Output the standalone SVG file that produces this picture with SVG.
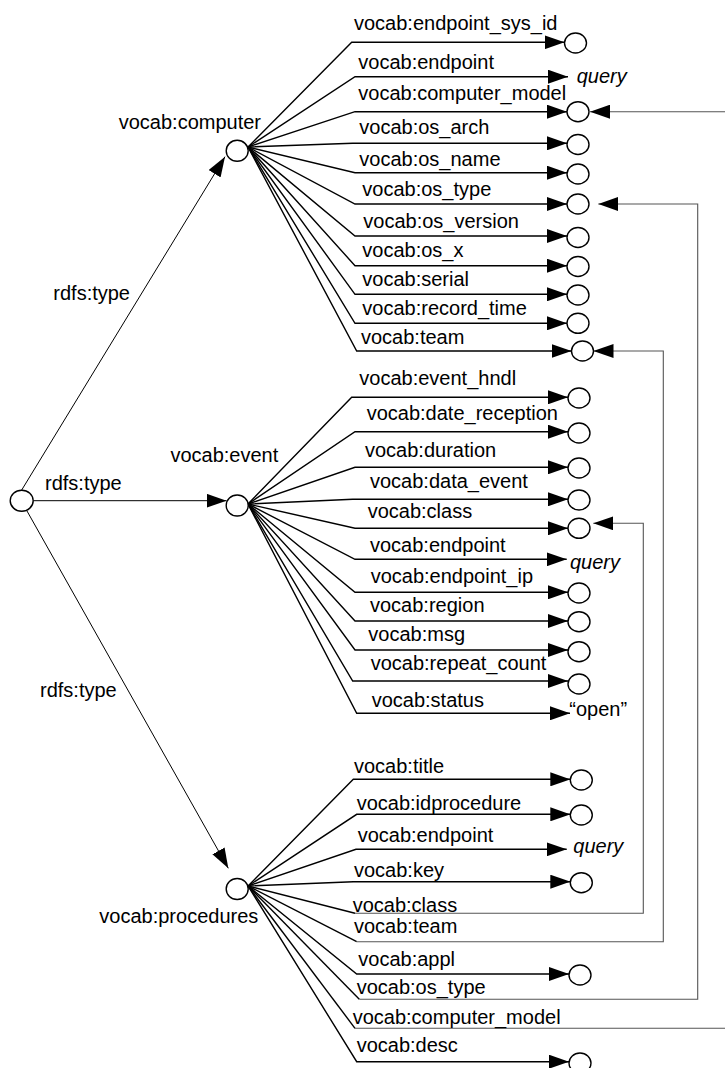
<svg xmlns="http://www.w3.org/2000/svg" width="725" height="1068" viewBox="0 0 725 1068">
  <style>
    text { font-family: "Liberation Sans", Arial, sans-serif; font-size: 20px; fill: #000; }
    .lit { font-style: italic; }
    .node { fill: #fff; stroke: #000; stroke-width: 1.4; }
    .prop { fill: none; stroke: #000; stroke-width: 1.4; marker-end: url(#arrow); }
    .fan { fill: none; stroke: #000; stroke-width: 1.4; }
    .type { fill: none; stroke: #000; stroke-width: 1; marker-end: url(#arrow); }
    .link { fill: none; stroke: #555; stroke-width: 1.1; marker-end: url(#arrow); }
  </style>
  <defs>
    <marker id="arrow" markerUnits="userSpaceOnUse" viewBox="0 0 20 14" markerWidth="20" markerHeight="14" refX="20" refY="7" orient="auto">
      <path d="M0,0 L20,7 L0,14 z" fill="#000"/>
    </marker>
  </defs>
  <rect width="725" height="1068" fill="#fff"/>

  <!-- connectors -->
  <g id="connectors">
    <!-- rdfs:type edges from the root resource -->
    <path class="type" d="M21.7,490 L225,156.7"/>
    <path class="type" d="M33.3,500.7 H226.5"/>
    <path class="type" d="M27,511 L228.3,868.3"/>

    <!-- vocab:computer properties -->
    <path class="prop" d="M248,147 L351.7,42.3 H564.5"/>
    <path class="prop" d="M248,147 L355,76.7 H568"/>
    <path class="prop" d="M248,147 L355,111.7 H567"/>
    <path class="prop" d="M248,147 L352.7,143.3 H567"/>
    <path class="prop" d="M248,147 L355,172.7 H567"/>
    <path class="prop" d="M248,147 L355,204 H567"/>
    <path class="prop" d="M248,147 L355,236 H567"/>
    <path class="prop" d="M248,147 L355,265.7 H567"/>
    <path class="prop" d="M248,147 L355,294.3 H567"/>
    <path class="prop" d="M248,147 L355,323.3 H567"/>
    <path class="prop" d="M248,147 L356.7,351 H571.5"/>

    <!-- vocab:event properties -->
    <path class="prop" d="M248,504 L351.7,397.3 H568"/>
    <path class="prop" d="M248,504 L355,431.7 H568"/>
    <path class="prop" d="M248,504 L355,467.3 H568"/>
    <path class="prop" d="M248,504 L352.7,499.3 H568"/>
    <path class="prop" d="M248,504 L355,528.3 H568"/>
    <path class="prop" d="M248,504 L355,559.3 H566.7"/>
    <path class="prop" d="M248,504 L355,592.3 H568"/>
    <path class="prop" d="M248,504 L355,621 H568"/>
    <path class="prop" d="M248,504 L355,650 H568"/>
    <path class="prop" d="M248,504 L352.7,681 H568"/>
    <path class="prop" d="M248,504 L356.7,713.3 H570"/>

    <!-- vocab:procedures properties -->
    <path class="prop" d="M248,886 L353.3,779.3 H570.3"/>
    <path class="prop" d="M248,886 L356.7,814.3 H570.3"/>
    <path class="prop" d="M248,886 L356,849.3 H566.7"/>
    <path class="prop" d="M248,886 L353.3,881.7 H570.3"/>
    <path class="fan" d="M248,886 L355,913.3"/>
    <path class="fan" d="M248,886 L356.7,941.7"/>
    <path class="prop" d="M248,886 L356.7,974 H569"/>
    <path class="fan" d="M248,886 L359.3,999.3"/>
    <path class="fan" d="M248,886 L355,1028.3"/>
    <path class="prop" d="M248,886 L356.7,1061.7 H569"/>

    <!-- shared values linked back to the computer and event properties -->
    <path class="link" d="M355,913.3 H643.3 V523.3 H593.3"/>
    <path class="link" d="M356.7,941.7 H663.3 V351 H593.5"/>
    <path class="link" d="M359.3,999.3 H697.7 V204 H598.3"/>
    <path class="link" d="M355,1028.3 H745 V111.7 H590"/>
  </g>

  <!-- class nodes -->
  <g id="root">
    <ellipse class="node" cx="21.7" cy="500.7" rx="11.5" ry="10.5"/>
  </g>
  <g id="computer">
    <ellipse class="node" cx="237.2" cy="150.8" rx="11" ry="10.5"/>
    <text x="261" y="129" text-anchor="end">vocab:computer</text>
  </g>
  <g id="event">
    <ellipse class="node" cx="237.2" cy="505.5" rx="11" ry="10.5"/>
    <text x="278.3" y="461.7" text-anchor="end">vocab:event</text>
  </g>
  <g id="procedures">
    <ellipse class="node" cx="237.2" cy="889" rx="11" ry="10.5"/>
    <text x="258.3" y="923.3" text-anchor="end">vocab:procedures</text>
  </g>

  <!-- rdfs:type labels -->
  <g id="type-labels">
    <text x="53.3" y="300">rdfs:type</text>
    <text x="45" y="490">rdfs:type</text>
    <text x="40" y="697">rdfs:type</text>
  </g>

  <!-- vocab:computer property labels and values -->
  <g id="computer-props">
    <text x="354" y="30">vocab:endpoint_sys_id</text>
    <ellipse class="node" cx="575.5" cy="43" rx="11" ry="10"/>
    <text x="358.3" y="69.3">vocab:endpoint</text>
    <text class="lit" x="576.7" y="83.3">query</text>
    <text x="358.3" y="100">vocab:computer_model</text>
    <ellipse class="node" cx="578" cy="111.7" rx="11" ry="10"/>
    <text x="359.3" y="134.3">vocab:os_arch</text>
    <ellipse class="node" cx="578" cy="144.5" rx="11" ry="10"/>
    <text x="359.3" y="165.7">vocab:os_name</text>
    <ellipse class="node" cx="578" cy="174" rx="11" ry="10"/>
    <text x="362.3" y="196">vocab:os_type</text>
    <ellipse class="node" cx="578" cy="204" rx="11" ry="10"/>
    <text x="363.3" y="228.3">vocab:os_version</text>
    <ellipse class="node" cx="578" cy="237.5" rx="11" ry="10"/>
    <text x="362.3" y="257.3">vocab:os_x</text>
    <ellipse class="node" cx="578" cy="266.5" rx="11" ry="10"/>
    <text x="362.3" y="285.7">vocab:serial</text>
    <ellipse class="node" cx="578" cy="295" rx="11" ry="10"/>
    <text x="362.3" y="315">vocab:record_time</text>
    <ellipse class="node" cx="578" cy="323.3" rx="11" ry="10"/>
    <text x="361" y="344">vocab:team</text>
    <ellipse class="node" cx="582.5" cy="351" rx="11" ry="10"/>
  </g>

  <!-- vocab:event property labels and values -->
  <g id="event-props">
    <text x="359.3" y="385">vocab:event_hndl</text>
    <ellipse class="node" cx="579" cy="398" rx="11" ry="10"/>
    <text x="366.7" y="420">vocab:date_reception</text>
    <ellipse class="node" cx="579" cy="433" rx="11" ry="10"/>
    <text x="365" y="456.7">vocab:duration</text>
    <ellipse class="node" cx="579" cy="468" rx="11" ry="10"/>
    <text x="370" y="487.7">vocab:data_event</text>
    <ellipse class="node" cx="579" cy="500" rx="11" ry="10"/>
    <text x="367.7" y="518.3">vocab:class</text>
    <ellipse class="node" cx="579" cy="528.3" rx="11" ry="10"/>
    <text x="370" y="551.7">vocab:endpoint</text>
    <text class="lit" x="570" y="569.3">query</text>
    <text x="370.7" y="583.3">vocab:endpoint_ip</text>
    <ellipse class="node" cx="579" cy="593" rx="11" ry="10"/>
    <text x="370" y="612.3">vocab:region</text>
    <ellipse class="node" cx="579" cy="621.7" rx="11" ry="10"/>
    <text x="368.3" y="641">vocab:msg</text>
    <ellipse class="node" cx="579" cy="651.7" rx="11" ry="10"/>
    <text x="370.7" y="670">vocab:repeat_count</text>
    <ellipse class="node" cx="579" cy="684" rx="11" ry="10"/>
    <text x="371.7" y="707.3">vocab:status</text>
    <text x="569.3" y="716">“open”</text>
  </g>

  <!-- vocab:procedures property labels and values -->
  <g id="procedures-props">
    <text x="354" y="773.3">vocab:title</text>
    <ellipse class="node" cx="581.3" cy="780" rx="11" ry="10"/>
    <text x="356.7" y="810">vocab:idprocedure</text>
    <ellipse class="node" cx="581.3" cy="815" rx="11" ry="10"/>
    <text x="357.7" y="841.7">vocab:endpoint</text>
    <text class="lit" x="573.3" y="853.3">query</text>
    <text x="354" y="876.7">vocab:key</text>
    <ellipse class="node" cx="581.3" cy="882.7" rx="11" ry="10"/>
    <text x="352.7" y="912">vocab:class</text>
    <text x="354" y="933.3">vocab:team</text>
    <text x="358.3" y="966">vocab:appl</text>
    <ellipse class="node" cx="580" cy="975" rx="11" ry="10"/>
    <text x="356.7" y="994">vocab:os_type</text>
    <text x="352.7" y="1024">vocab:computer_model</text>
    <text x="356.7" y="1051.7">vocab:desc</text>
    <ellipse class="node" cx="580" cy="1063" rx="11" ry="10"/>
  </g>
</svg>
